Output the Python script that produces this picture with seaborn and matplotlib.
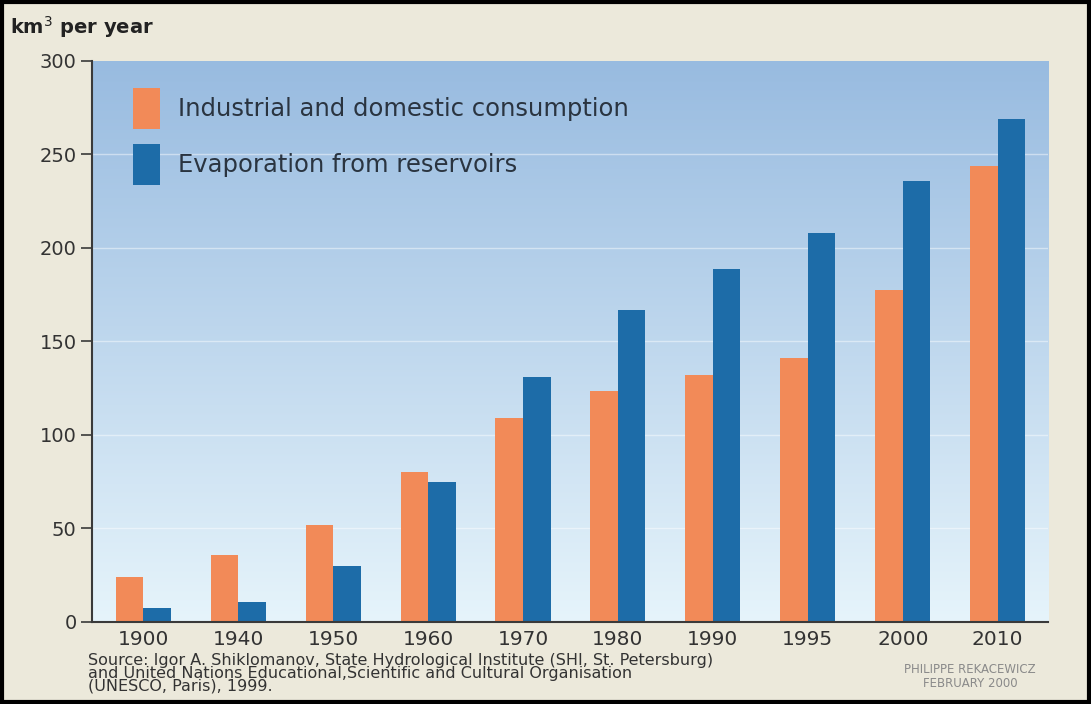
import numpy as np
import pandas as pd
import matplotlib
matplotlib.use("Agg")
import matplotlib.pyplot as plt
from matplotlib.patches import Rectangle
import seaborn as sns

years = ["1900", "1940", "1950", "1960", "1970", "1980", "1990", "1995", "2000", "2010"]
consumption = [24, 36, 52, 80, 109, 123.5, 132, 141, 177.5, 244]
evaporation = [7.5, 10.5, 30, 75, 131, 167, 189, 208, 236, 269]
series_names = ["Industrial and domestic consumption", "Evaporation from reservoirs"]
y_ticks = [0, 50, 100, 150, 200, 250, 300]

df = pd.DataFrame({
    "year": years * 2,
    "value": consumption + evaporation,
    "series": [series_names[0]] * len(years) + [series_names[1]] * len(years),
})

sns.set_style("white")
plt.rcParams["font.family"] = ["DejaVu Sans"]

beige = "#ece9db"
fig = plt.figure(figsize=(10.91, 7.04), dpi=100, facecolor=beige)
ax = fig.add_axes([0.0843, 0.1165, 0.8763, 0.7969])

# vertical gradient panel behind the bars
grad = np.linspace(0, 1, 256).reshape(-1, 1)
top_c = np.array([0x98, 0xbb, 0xe0]) / 255
bot_c = np.array([0xe6, 0xf4, 0xfb]) / 255
img = top_c[None, None, :] * (1 - grad[:, :, None]) + bot_c[None, None, :] * grad[:, :, None]
ax.imshow(img, extent=[0, 1, 0, 1], transform=ax.transAxes, aspect="auto", zorder=0)

palette = {series_names[0]: "#f28a58", series_names[1]: "#1d6ca8"}
sns.barplot(data=df, x="year", y="value", hue="series", palette=palette,
            width=0.58, saturation=1, ax=ax, zorder=3, linewidth=0)

ax.set_xlim(-0.54, 9.53)
ax.set_ylim(0, 300)
ax.set_yticks(y_ticks)
ax.set_yticklabels([str(t) for t in y_ticks])
for t in y_ticks[1:-1]:
    ax.axhline(t, color="white", lw=1.0, alpha=0.45, zorder=1)

ax.set_xlabel("")
ax.set_ylabel("")
for s in ["top", "right"]:
    ax.spines[s].set_visible(False)
for s in ["left", "bottom"]:
    ax.spines[s].set_color("#3a3a3a")
    ax.spines[s].set_linewidth(1.5)
    ax.spines[s].set_zorder(5)
ax.tick_params(axis="y", which="both", left=True, length=8, width=1.2, color="#3a3a3a",
               labelsize=14, labelcolor="#333333", pad=3)
ax.tick_params(axis="x", bottom=False, labelsize=14.5, labelcolor="#333333", pad=2)

leg = ax.legend(loc="upper left", bbox_to_anchor=(0.043, 0.952), frameon=False, fontsize=17.5,
                handlelength=1.1, handleheight=2.22, labelspacing=0.6, handletextpad=0.74,
                borderpad=0, borderaxespad=0, labelcolor="#2a3440")

fig.text(0.009, 0.962, "km$^3$ per year", fontsize=14, fontweight="bold", color="#222222",
         ha="left", va="center")

source = ("Source: Igor A. Shiklomanov, State Hydrological Institute (SHI, St. Petersburg)\n"
          "and United Nations Educational,Scientific and Cultural Organisation\n"
          "(UNESCO, Paris), 1999.")
fig.text(0.081, 0.073, source, fontsize=11.5, color="#333333", ha="left", va="top",
         linespacing=0.84)

fig.text(0.889, 0.058, "PHILIPPE REKACEWICZ\nFEBRUARY 2000", fontsize=8.5, color="#8a8a8a",
         ha="center", va="top", linespacing=1.1)

fig.patches.append(Rectangle((0.002, 0.003), 0.996, 0.994, transform=fig.transFigure,
                             fill=False, edgecolor="black", linewidth=3))

fig.savefig("out.png", dpi=100, facecolor=beige)
